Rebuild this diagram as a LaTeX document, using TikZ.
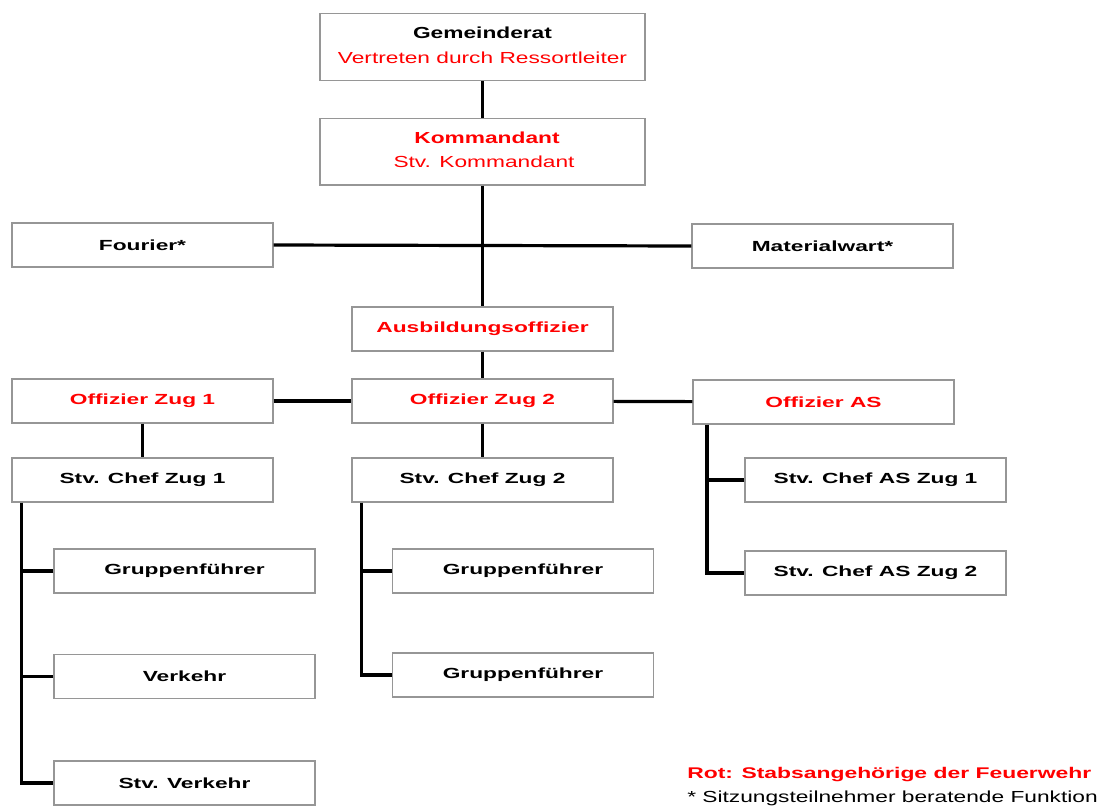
\documentclass[tikz,border=0pt]{standalone}
\usepackage{fontspec}
\setmainfont{Liberation Sans}
\definecolor{boxgray}{RGB}{150,150,150}
\definecolor{rotrot}{RGB}{255,0,0}
\newcommand{\nt}[1]{\scalebox{1.55}[1]{\fontsize{11pt}{13pt}\selectfont\bfseries #1}}
\newcommand{\wt}[1]{\scalebox{1.42}[1]{\fontsize{12pt}{14pt}\selectfont #1}}
\begin{document}
\begin{tikzpicture}[x=0.75pt,y=-0.75pt,
  box/.style={draw=boxgray, line width=1pt, fill=white, minimum width=195.75pt, minimum height=33pt, inner sep=0pt},
  bigbox/.style={box, minimum width=243.75pt, minimum height=50pt},
  conn/.style={line width=2.4pt, black},
  red/.style={text=rotrot},
  legend/.style={anchor=west, inner sep=0pt}]
\useasboundingbox (0,0) rectangle (1103,807);
% boxes
\node[bigbox] (gem) at (482.5,47) {};
\node at (482.5,33) {\wt{\bfseries Gemeinderat}};
\node[red] at (482.5,58) {\wt{Vertreten durch Ressortleiter}};
\node[bigbox] (kom) at (482.5,151.5) {};
\node[red] at (487,138) {\wt{\bfseries Kommandant}};
\node[red] at (484,162) {\wt{Stv. Kommandant}};
\node[box] (fou) at (142.5,245) {\nt{Fourier*}};
\node[box] (mat) at (822.5,246) {\nt{Materialwart*}};
\node[box,red] (aus) at (482.5,329) {\nt{Ausbildungsoffizier}};
\node[box,red] (oz1) at (142.5,401) {\nt{Offizier Zug 1}};
\node[box,red] (oz2) at (482.5,401) {\nt{Offizier Zug 2}};
\node[box,red] (oas) at (823.5,402) {\nt{Offizier AS}};
\node[box] (sc1) at (142.5,480) {\nt{Stv. Chef Zug 1}};
\node[box] (sc2) at (482.5,480) {\nt{Stv. Chef Zug 2}};
\node[box] (sa1) at (875.5,480) {\nt{Stv. Chef AS Zug 1}};
\node[box] (sa2) at (875.5,573) {\nt{Stv. Chef AS Zug 2}};
\node[box] (g11) at (184.5,571) {\nt{Gruppenführer}};
\node[box] (ver) at (184.5,676.5) {\nt{Verkehr}};
\node[box] (sve) at (184.5,783) {\nt{Stv. Verkehr}};
\node[box] (g21) at (523,571) {\nt{Gruppenführer}};
\node[box] (g22) at (523,675) {\nt{Gruppenführer}};
% connectors
\draw[conn] (gem) -- (kom);
\draw[conn] (kom) -- (aus);
\draw[conn] (fou.east) -- (mat.west);
\draw[conn] (aus) -- (oz2);
\draw[conn] (oz1) -- (oz2);
\draw[conn] (oz2) -- (oas);
\draw[conn] (oz1) -- (sc1);
\draw[conn] (oz2) -- (sc2);
\coordinate (t1) at ([xshift=7.5pt]sc1.south west);
\coordinate (t2) at ([xshift=7.5pt]sc2.south west);
\coordinate (t3) at ([xshift=11pt]oas.south west);
\draw[conn] (t1) |- (sve.west);
\draw[conn] (g11.west) -- (g11.west -| t1);
\draw[conn] (ver.west) -- (ver.west -| t1);
\draw[conn] (t2) |- (g22.west);
\draw[conn] (g21.west) -- (g21.west -| t2);
\draw[conn] (t3) |- (sa2.west);
\draw[conn] (sa1.west) -- (sa1.west -| t3);
% legend
\node[legend,red] (leg1) at (687,775) {\scalebox{1.48}[1]{\fontsize{11.6pt}{14pt}\selectfont\bfseries Rot: Stabsangehörige der Feuerwehr}};
\node[legend] (leg2) at (687,798) {\scalebox{1.42}[1]{\fontsize{12pt}{14pt}\selectfont * Sitzungsteilnehmer beratende Funktion}};
\end{tikzpicture}
\end{document}
